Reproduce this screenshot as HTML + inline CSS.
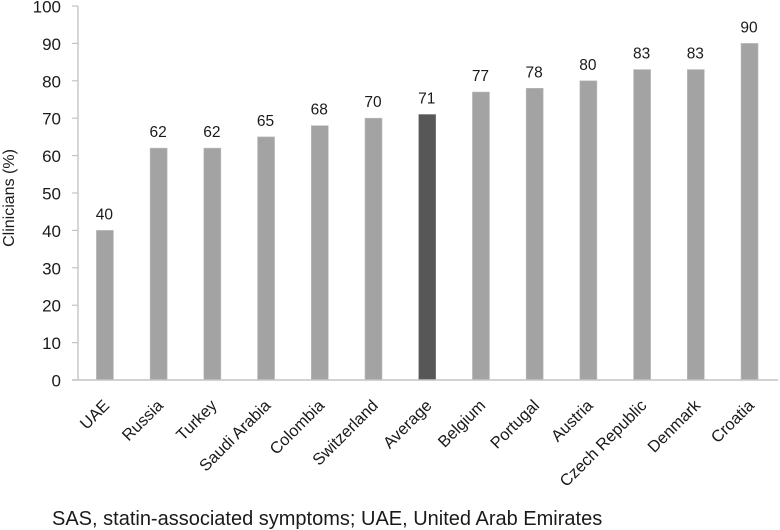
<!DOCTYPE html>
<html>
<head>
<meta charset="utf-8">
<style>
html,body{margin:0;padding:0;background:#fff;width:780px;height:530px;overflow:hidden}
svg{display:block}
text{font-family:"Liberation Sans",sans-serif;fill:#1a1a1a}
</style>
</head>
<body>
<svg id="chart" width="780" height="530" viewBox="0 0 780 530" xmlns="http://www.w3.org/2000/svg"></svg>
<script>
const categories = ["UAE","Russia","Turkey","Saudi Arabia","Colombia","Switzerland","Average","Belgium","Portugal","Austria","Czech Republic","Denmark","Croatia"];
const seriesValues = [40,62,62,65,68,70,71,77,78,80,83,83,90];
const yTickLabels = [0,10,20,30,40,50,60,70,80,90,100];
const highlightCategory = "Average";

const svg = document.getElementById('chart');
const NS = 'http://www.w3.org/2000/svg';
const plot = {left:78, right:778, top:6, bottom:380};
const yMax = 100;
function yScale(v){ return plot.bottom - (v / yMax) * (plot.bottom - plot.top); }
function xScale(i){ return 104.9 + i * 53.72; }
function mk(tag, attrs, text){
  const el = document.createElementNS(NS, tag);
  for (const k in attrs) el.setAttribute(k, attrs[k]);
  if (text !== undefined) el.textContent = text;
  svg.appendChild(el);
  return el;
}

yTickLabels.forEach(function(t){
  const y = yScale(t);
  const tick = mk('line', {x1:72, x2:plot.left, y1:y, y2:y, stroke:'#c4c4c4', 'stroke-width':1.2});
  
  
  const label = mk('text', {x:61, y:y + 6.5, 'text-anchor':'end', 'font-size':17}, t);
  
  
});

const yAxis = mk('line', {x1:plot.left, x2:plot.left, y1:plot.top, y2:plot.bottom, stroke:'#c4c4c4', 'stroke-width':1.4});



const yTitle = mk('text', {transform:'translate(14 198) rotate(-90)', 'text-anchor':'middle', 'font-size':16}, 'Clinicians (%)');



categories.forEach(function(c, i){
  const v = seriesValues[i];
  const cx = xScale(i);
  const y = yScale(v);
  const slug = c.toLowerCase().replace(/\s+/g, '-');
  const bar = mk('rect', {x:cx - 8.5, y:y, width:17, height:plot.bottom - y, fill:c === highlightCategory ? '#575757' : '#a3a3a3', stroke:c === highlightCategory ? '#8a8a8a' : '#bcbcbc', 'stroke-width':0.6});
  
  
  const val = mk('text', {x:cx - 0.5, y:y - 11, 'text-anchor':'middle', 'font-size':15.5}, v);
  
  
  const lab = mk('text', {transform:'translate(' + (cx + 5.5) + ' 406.5) rotate(-45)', 'text-anchor':'end', 'font-size':16.4}, c);
  
  
});

const xAxis = mk('line', {x1:72, x2:plot.right, y1:plot.bottom, y2:plot.bottom, stroke:'#c4c4c4', 'stroke-width':1.4});



const note = mk('text', {x:52, y:525, 'font-size':20}, 'SAS, statin-associated symptoms; UAE, United Arab Emirates');


</script>
</body>
</html>
